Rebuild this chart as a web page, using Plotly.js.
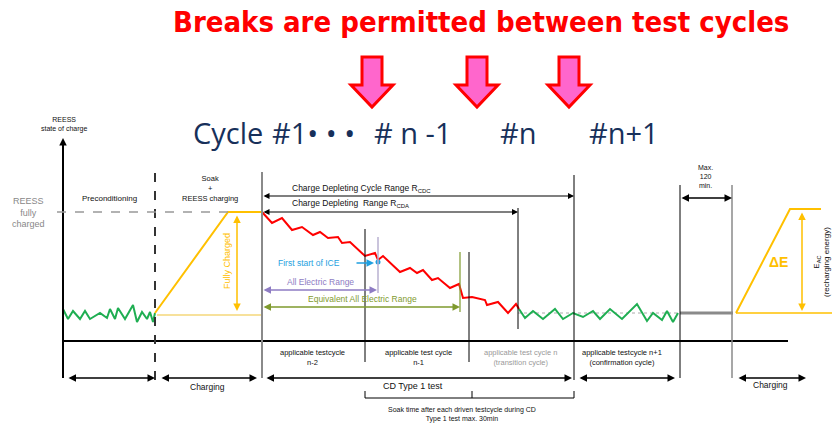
<!DOCTYPE html>
<html><head><meta charset="utf-8">
<script src="https://cdn.plot.ly/plotly-3.0.1.min.js"></script>
<style>body{margin:0;background:#fff}#c{width:832px;height:423px}</style>
</head><body><div id="c"></div>
<script>
// ---- data (diagram coordinates: x 0..832, y 0..423 downward) ----
const preX  = [63,68,73,80,85,90,100,107,110,115,118,125,133,137,142,147,150,153,155];
const preY  = [309,319,311,319,311,319,313,318,309,319,308,319,305,322,312,319,312,322,313];
const redX  = [262,272,282,292,302,313,320,328,338,342,350,365,375,378,383,400,410,417,423,432,438,450,459,463,472,485,487,498,508,516,519];
const redY  = [212,223,218,230,227,235,232,238,237,243,242,256,253,260,256,272,268,273,270,280,278,288,284,298,297,300,305,302,313,304,309];
const postX = [519,525,533,543,555,563,573,583,593,600,610,622,637,647,653,662,667,673,678];
const postY = [309,318,311,319,309,319,313,317,311,319,309,319,304,321,313,320,311,322,313];
const chg1X = [155,228,262];
const chg1Y = [313,212,212];
const chg2X = [736,790,821];
const chg2Y = [313,209,209];
const arrowCenters = [372,477,569];
const cycleLabels = ["Cycle","#1• • •","# n -1","#n","#n+1"];
const cycleLabelX = [228,313,413,518,624];
const bottomLabels = ["applicable testcycle<br>n-2","applicable test cycle<br>n-1","applicable test cycle n<br>(transition cycle)","applicable testcycle n+1<br>(confirmation cycle)"];
const bottomLabelX = [312,418,520,622];

const GREEN='#1fae52', RED='#ff0000', YEL='#ffc000', GRAY='#8a8a8a', PUR='#8e7cc3', OLV='#7f9a2e', BLUE='#1e9fe0';
const SF = 'Liberation Sans, Arial, sans-serif';

const traces = [
  {x:[518,678], y:[313,313], mode:'lines', line:{color:'#aaaaaa', width:1, dash:'dot'}},
  {x:preX, y:preY, mode:'lines', line:{color:GREEN, width:2}},
  {x:redX, y:redY, mode:'lines', line:{color:RED, width:2}},
  {x:postX, y:postY, mode:'lines', line:{color:GREEN, width:2}},
  {x:[157,262], y:[315,315], mode:'lines', line:{color:'#f5d77a', width:1.5}},
  {x:chg1X, y:chg1Y, mode:'lines', line:{color:YEL, width:2}},
  {x:[736,832], y:[313,313], mode:'lines', line:{color:YEL, width:1.5}},
  {x:chg2X, y:chg2Y, mode:'lines', line:{color:YEL, width:2}},
  {x:[680,733], y:[313,313], mode:'lines', line:{color:GRAY, width:3}},
  {x:[378], y:[262], mode:'markers', marker:{color:BLUE, size:5}}
].map(t=>Object.assign({hoverinfo:'skip', showlegend:false}, t));

function vline(x,y0,y1,color,width,dash){return {type:'line',xref:'x',yref:'y',x0:x,x1:x,y0:y0,y1:y1,line:{color:color,width:width,dash:dash||'solid'}};}
function hline(y,x0,x1,color,width,dash){return {type:'line',xref:'x',yref:'y',x0:x0,x1:x1,y0:y,y1:y,line:{color:color,width:width,dash:dash||'solid'}};}

const shapes = [
  vline(63,142,378,'#000',2),
  hline(341,63,788,'#000',2),
  vline(155,173,380,'#333',2,'dash'),
  hline(212,57,228,'#999',1.5,'dash'),
  vline(262,172,378,GRAY,2),
  vline(365,229,362,'#000',1),
  vline(378,237,293,'#b8b0d0',1.5),
  vline(460,252,312,OLV,1.2),
  vline(469,252,362,'#000',1),
  vline(518,208,329,'#000',1),
  vline(574,175,380,'#000',1),
  vline(680,185,378,'#000',1),
  vline(732,185,378,GRAY,1.5),
  hline(398,365,574,'#000',1),
  vline(365,391,398,'#000',1),
  vline(472,391,398,'#000',1),
  vline(574,391,398,'#000',1)
];
arrowCenters.forEach(c=>{
  shapes.push({type:'path',xref:'x',yref:'y',
    path:`M ${c-10} 57 L ${c+10} 57 L ${c+10} 85 L ${c+21} 85 L ${c} 107 L ${c-21} 85 L ${c-10} 85 Z`,
    fillcolor:'#ff66cc', line:{color:'#ff0000', width:3}});
});

function txt(x,y,text,size,color,extra){return Object.assign({x:x,y:y,xref:'x',yref:'y',text:text,showarrow:false,font:{family:SF,size:size,color:color}},extra||{});}
function arr(x0,x1,y,color,both,w){return {x:x1,y:y,ax:x0,ay:y,xref:'x',yref:'y',axref:'x',ayref:'y',text:'',showarrow:true,arrowhead:2,arrowsize:1,arrowwidth:w||1.5,arrowcolor:color,arrowside:both?'end+start':'end',startarrowhead:2,startarrowsize:1};}
function varr(x,y0,y1,color,both){return {x:x,y:y1,ax:x,ay:y0,xref:'x',yref:'y',axref:'x',ayref:'y',text:'',showarrow:true,arrowhead:2,arrowsize:1,arrowwidth:1.5,arrowcolor:color,arrowside:both?'end+start':'end',startarrowhead:2,startarrowsize:1};}

const ann = [
  {x:481,y:22,xref:'x',yref:'y',text:'<b>Breaks are permitted between test cycles</b>',showarrow:false,
   font:{family:'Liberation Sans Narrow, DejaVu Sans Condensed, sans-serif',size:29,color:'#ff0000'}},
  txt(64,124,'REESS<br>state of charge',7,'#111',{}),
  txt(28,212,'REESS<br>fully<br>charged',9,'#888',{}),
  txt(109,198,'Preconditioning',8,'#111',{}),
  txt(210,188,'Soak<br>+<br>REESS charging',7.5,'#111',{}),
  txt(227,261,'Fully Charged',9,YEL,{textangle:-90}),
  txt(361,188,'Charge Depleting Cycle Range R<sub>CDC</sub>',8.5,'#111',{}),
  txt(350,203,'Charge Depleting  Range R<sub>CDA</sub>',8.5,'#111',{}),
  txt(309,263,'First start of ICE',8.5,BLUE,{}),
  txt(320,282,'All Electric Range',8.5,PUR,{}),
  txt(362,299,'Equivalent All Electric Range',8.5,OLV,{}),
  txt(705,176,'Max.<br>120<br>min.',7,'#111',{}),
  txt(778,262,'<b>ΔE</b>',14,YEL,{}),
  txt(821,262,'E<sub>AC</sub><br>(recharging energy)',8,'#111',{textangle:-90}),
  txt(207,387,'Charging',8.5,'#111',{}),
  txt(770,385,'Charging',8.5,'#111',{}),
  txt(413,386,'CD Type 1 test',9,'#111',{}),
  txt(462,414,'Soak time after each driven testcycle during CD<br>Type 1 test max. 30min',7,'#111',{}),
  varr(63,160,138,'#000',false),
  arr(262,574,196,'#000',true,1.2),
  arr(262,518,212,'#000',true,1.2),
  arr(355,374,263,BLUE,false,1.5),
  arr(262,377,290,PUR,true,1.5),
  arr(262,460,307,OLV,true,1.5),
  arr(680,732,198,'#000',true,1.5),
  varr(237,214,311,YEL,true),
  varr(802,211,311,YEL,true),
  arr(67,155,378,'#000',true,1.5),
  arr(160,257,378,'#000',true,1.5),
  arr(265,572,378,'#000',true,1.5),
  arr(578,675,378,'#000',true,1.5),
  arr(737,806,378,'#000',true,1.5)
];
cycleLabels.forEach((t,i)=>ann.push({x:cycleLabelX[i],y:132,xref:'x',yref:'y',text:t,showarrow:false,
  font:{family:'Open Sans, Noto Sans, sans-serif',size:29,color:'#17305a'}}));
bottomLabels.forEach((t,i)=>ann.push(txt(bottomLabelX[i],357,t,7.5,i===2?'#999':'#111',{})));

const layout = {
  width:832,height:423,margin:{l:0,r:0,t:0,b:0},paper_bgcolor:'#fff',plot_bgcolor:'#fff',
  xaxis:{range:[0,832],visible:false,fixedrange:true},
  yaxis:{range:[423,0],visible:false,fixedrange:true},
  shapes:shapes,annotations:ann,showlegend:false
};
Plotly.newPlot('c',traces,layout,{staticPlot:true,displayModeBar:false});
</script></body></html>
